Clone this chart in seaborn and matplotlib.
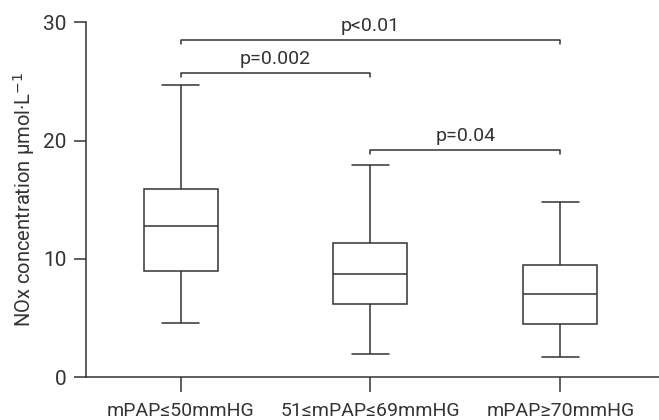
import pandas as pd
import matplotlib
matplotlib.use('Agg')
import matplotlib.pyplot as plt
import seaborn as sns

# groups and box summary values (min, Q1, median, Q3, max)
groups = ['mPAP≤50mmHG', '51≤mPAP≤69mmHG', 'mPAP≥70mmHG']
group_low = [4.6, 2.0, 1.7]
group_q1 = [9.0, 6.2, 4.5]
group_median = [12.8, 8.7, 7.0]
group_q3 = [15.9, 11.3, 9.5]
group_high = [24.7, 17.9, 14.8]

# significance brackets: (left group, right group, height, label)
pairs = [(0, 2), (0, 1), (1, 2)]
pair_heights = [28.5, 25.7, 19.2]
pair_labels = ['p<0.01', 'p=0.002', 'p=0.04']

rows = []
for i, g in enumerate(groups):
    for v in (group_low[i], group_q1[i], group_median[i], group_q3[i], group_high[i]):
        rows.append({'group': g, 'value': v})
data = pd.DataFrame(rows)

sns.set_style('ticks')
plt.rcParams['font.family'] = ['Roboto', 'DejaVu Sans']
ink = '#333333'

fig = plt.figure(figsize=(6.59, 4.2), dpi=100)
ax = fig.add_axes([0.13, 0.102, 0.87, 0.845])

line_kw = dict(color=ink, linewidth=1.1)
sns.boxplot(data=data, x='group', y='value', order=groups, whis=(0, 100),
            width=0.39, color='white', linecolor=ink, linewidth=1.1,
            showfliers=False, ax=ax)

# brackets
for (a, b), h, lab in zip(pairs, pair_heights, pair_labels):
    ax.plot([a, a, b, b], [h - 0.35, h, h, h - 0.35], **line_kw)
    ax.text((a + b) / 2, h + 0.45, lab, ha='center', va='bottom',
            fontsize=14, color=ink)

ax.set_xlim(-0.5, 2.52)
ax.set_ylim(0, 30)
ax.set_yticks([0, 10, 20, 30])
ax.set_xlabel('')
ax.set_ylabel('NOx concentration µmol·L$^{-1}$', fontsize=14.5, color=ink,
              labelpad=4)
ax.tick_params(axis='both', width=1.1, color=ink, labelcolor=ink)
ax.tick_params(axis='y', length=9, pad=5, labelsize=15)
ax.tick_params(axis='x', length=11, pad=7, labelsize=14)
for s in ['top', 'right']:
    ax.spines[s].set_visible(False)
for s in ['left', 'bottom']:
    ax.spines[s].set_color(ink)
    ax.spines[s].set_linewidth(1.1)

fig.savefig('out.png', dpi=100)
